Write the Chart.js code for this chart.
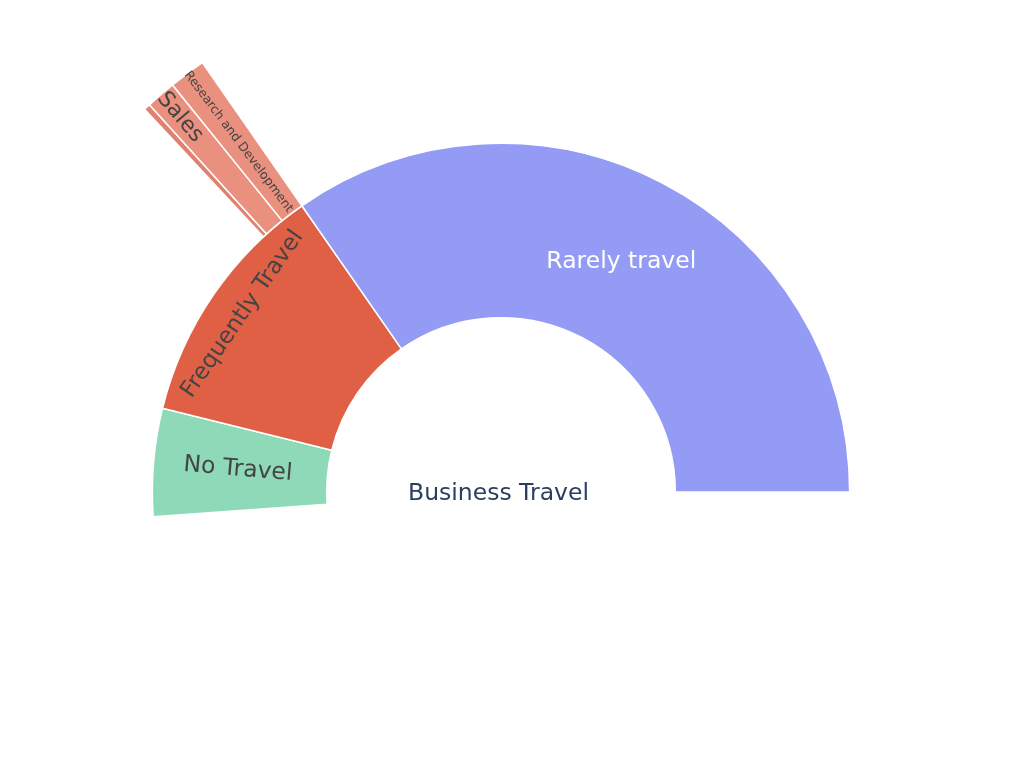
<!DOCTYPE html>
<html><head><meta charset="utf-8">
<script src="https://cdn.jsdelivr.net/npm/chart.js@4.4.1/dist/chart.umd.min.js"></script>
<style>
html,body{margin:0;padding:0;width:1018px;height:768px;overflow:hidden;background:#fff;}
#wrap{position:absolute;left:-49px;top:-58px;width:1100px;height:1100px;}
</style></head><body>
<div id="wrap"><canvas id="c" width="1100" height="1100"></canvas></div>
<script>
// ---- data (sunburst, branchvalues = remainder) ----
const rootLabel = "Business Travel";
const rootValue = 1470;
const travelLabels = ["Rarely travel", "Frequently Travel", "No Travel"];
const travelValues = [1043, 277, 150];
const deptParent = "Frequently Travel";
const deptLabels = ["Research and Development", "Sales", "Human Resources"];
const deptValues = [34, 28, 6];

// ---- styles ----
const sliceColors = {
  "Business Travel": "#ffffff",
  "Rarely travel": "#939BF5",
  "Frequently Travel": "#E06046",
  "No Travel": "#8DD9B8",
  "Research and Development": "#EA907E",
  "Sales": "#EA907E",
  "Human Resources": "#E0826F"
};
const labelStyle = {
  "Business Travel": {mode: "center", size: 23.5, color: "#2a3f5f", r: 0, dx: -2.5, dy: 2},
  "Rarely travel": {mode: "horizontal", size: 23.5, color: "#ffffff", r: 0.49, dx: 0, dy: 0},
  "Frequently Travel": {mode: "tangential", size: 23, color: "#444444", r: 0.80, dx: 0, dy: 0},
  "No Travel": {mode: "radial", size: 23.5, color: "#444444", r: 0.515, dx: 0, dy: 0},
  "Sales": {mode: "radial", size: 22, color: "#444444", r: 0.83, dx: 0, dy: 0},
  "Research and Development": {mode: "radial", size: 12.5, color: "#444444", r: 0.51, dx: 0, dy: 0}
};
const FONT = '"DejaVu Sans", Verdana, Arial, sans-serif';

// ---- build rings (clockwise from 3 o'clock = Plotly counter-clockwise mirrored) ----
const deptSum = deptValues.reduce((a, b) => a + b, 0);
const travelTotals = travelLabels.map((l, i) => travelValues[i] + (l === deptParent ? deptSum : 0));
const grandTotal = rootValue + travelTotals.reduce((a, b) => a + b, 0);

function ring(entries) {
  return {
    data: entries.map(e => e.v),
    labelsText: entries.map(e => e.l),
    backgroundColor: entries.map(e => e.l ? sliceColors[e.l] : "rgba(0,0,0,0)"),
    borderColor: "#ffffff",
    borderWidth: entries.map(e => e.l ? 1.5 : 0)
  };
}

const ring1 = [{v: rootValue, l: null}];
for (let i = travelLabels.length - 1; i >= 0; i--) ring1.push({v: travelTotals[i], l: travelLabels[i]});

const ring2 = [];
let gap = rootValue;
for (let i = travelLabels.length - 1; i >= 0; i--) {
  if (travelLabels[i] === deptParent) {
    gap += travelValues[i];
    ring2.push({v: gap, l: null});
    gap = 0;
    for (let j = deptLabels.length - 1; j >= 0; j--) ring2.push({v: deptValues[j], l: deptLabels[j]});
  } else {
    gap += travelTotals[i];
  }
}
ring2.push({v: gap, l: null});

const ring0 = [{v: grandTotal, l: rootLabel}];

const labelPlugin = {
  id: "sunLabels",
  afterDatasetsDraw(chart) {
    const ctx = chart.ctx;
    chart.data.datasets.forEach((ds, di) => {
      const meta = chart.getDatasetMeta(di);
      meta.data.forEach((el, k) => {
        const txt = ds.labelsText[k];
        if (!txt || !labelStyle[txt]) return;
        const st = labelStyle[txt];
        const p = el.getProps(["x", "y", "startAngle", "endAngle", "innerRadius", "outerRadius"], true);
        const phi = (p.startAngle + p.endAngle) / 2;
        let x = p.x, y = p.y, rot = 0;
        if (st.mode !== "center") {
          const r = p.innerRadius + st.r * (p.outerRadius - p.innerRadius);
          x = p.x + r * Math.cos(phi);
          y = p.y + r * Math.sin(phi);
          if (st.mode === "radial") {
            rot = Math.atan2(-Math.sin(phi), -Math.cos(phi));
          } else if (st.mode === "tangential") {
            rot = phi + Math.PI / 2;
          }
          if (Math.cos(rot) < 0) rot += Math.PI;
        }
        ctx.save();
        ctx.translate(x, y);
        ctx.rotate(rot);
        ctx.font = st.size + 'px ' + FONT;
        ctx.fillStyle = st.color;
        ctx.textAlign = "center";
        ctx.textBaseline = "middle";
        ctx.fillText(txt, st.dx, st.dy);
        ctx.restore();
      });
    });
  }
};

new Chart(document.getElementById("c"), {
  type: "pie",
  data: {datasets: [ring(ring2), ring(ring1), ring(ring0)]},
  options: {
    responsive: false,
    devicePixelRatio: 1,
    animation: false,
    events: [],
    rotation: 90,
    radius: 523,
    layout: {padding: 0},
    plugins: {legend: {display: false}, tooltip: {enabled: false}}
  },
  plugins: [labelPlugin]
});
</script>
</body></html>
